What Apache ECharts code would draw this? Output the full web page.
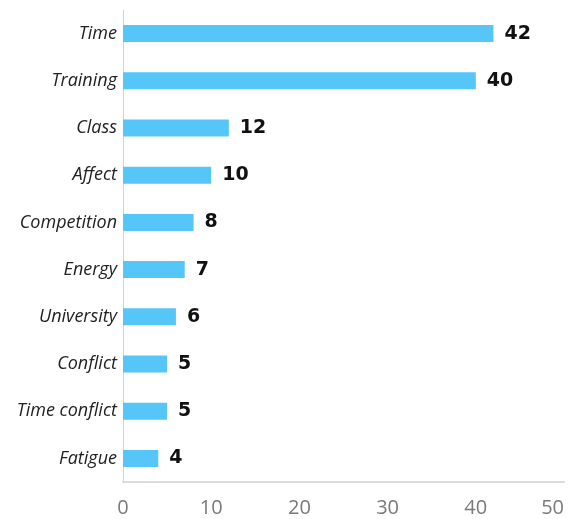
<!DOCTYPE html>
<html>
<head>
<meta charset="utf-8">
<style>
  html, body { margin: 0; padding: 0; background: #ffffff; }
  #chart { width: 568px; height: 519px; }
</style>
<script src="https://cdn.jsdelivr.net/npm/echarts@6/dist/echarts.min.js"></script>
</head>
<body>
<div id="chart"></div>
<script>
// Categories listed top to bottom
const categories = ['Time', 'Training', 'Class', 'Affect', 'Competition', 'Energy', 'University', 'Conflict', 'Time conflict', 'Fatigue'];
const counts = [42, 40, 12, 10, 8, 7, 6, 5, 5, 4];
const xTicks = [0, 10, 20, 30, 40, 50];

const chart = echarts.init(document.getElementById('chart'), null, { renderer: 'canvas' });

chart.setOption({
  animation: false,
  backgroundColor: '#ffffff',
  grid: { left: 123, right: 4, top: 10, bottom: 37, containLabel: false },
  xAxis: {
    type: 'value',
    min: xTicks[0],
    max: xTicks[xTicks.length - 1],
    interval: xTicks[1] - xTicks[0],
    axisLine: { show: true, lineStyle: { color: '#dcdcdc', width: 2 } },
    axisTick: { show: false },
    splitLine: { show: false },
    axisLabel: {
      color: '#7a7a7a',
      fontFamily: 'Open Sans',
      fontSize: 20,
      margin: 16,
      alignMaxLabel: 'right'
    }
  },
  yAxis: {
    type: 'category',
    data: categories,
    inverse: true,
    axisLine: { show: true, lineStyle: { color: '#d4d4d4', width: 1 } },
    axisTick: { show: false },
    axisLabel: {
      color: '#222222',
      fontFamily: 'Open Sans',
      fontStyle: 'italic',
      fontSize: 18,
      margin: 6
    }
  },
  series: [{
    type: 'bar',
    data: counts,
    barWidth: 17,
    itemStyle: { color: '#56c5f8' },
    label: {
      show: true,
      position: 'right',
      distance: 11,
      color: '#111111',
      fontFamily: 'DejaVu Sans',
      fontWeight: 'bold',
      fontSize: 19
    }
  }]
});
</script>
</body>
</html>
